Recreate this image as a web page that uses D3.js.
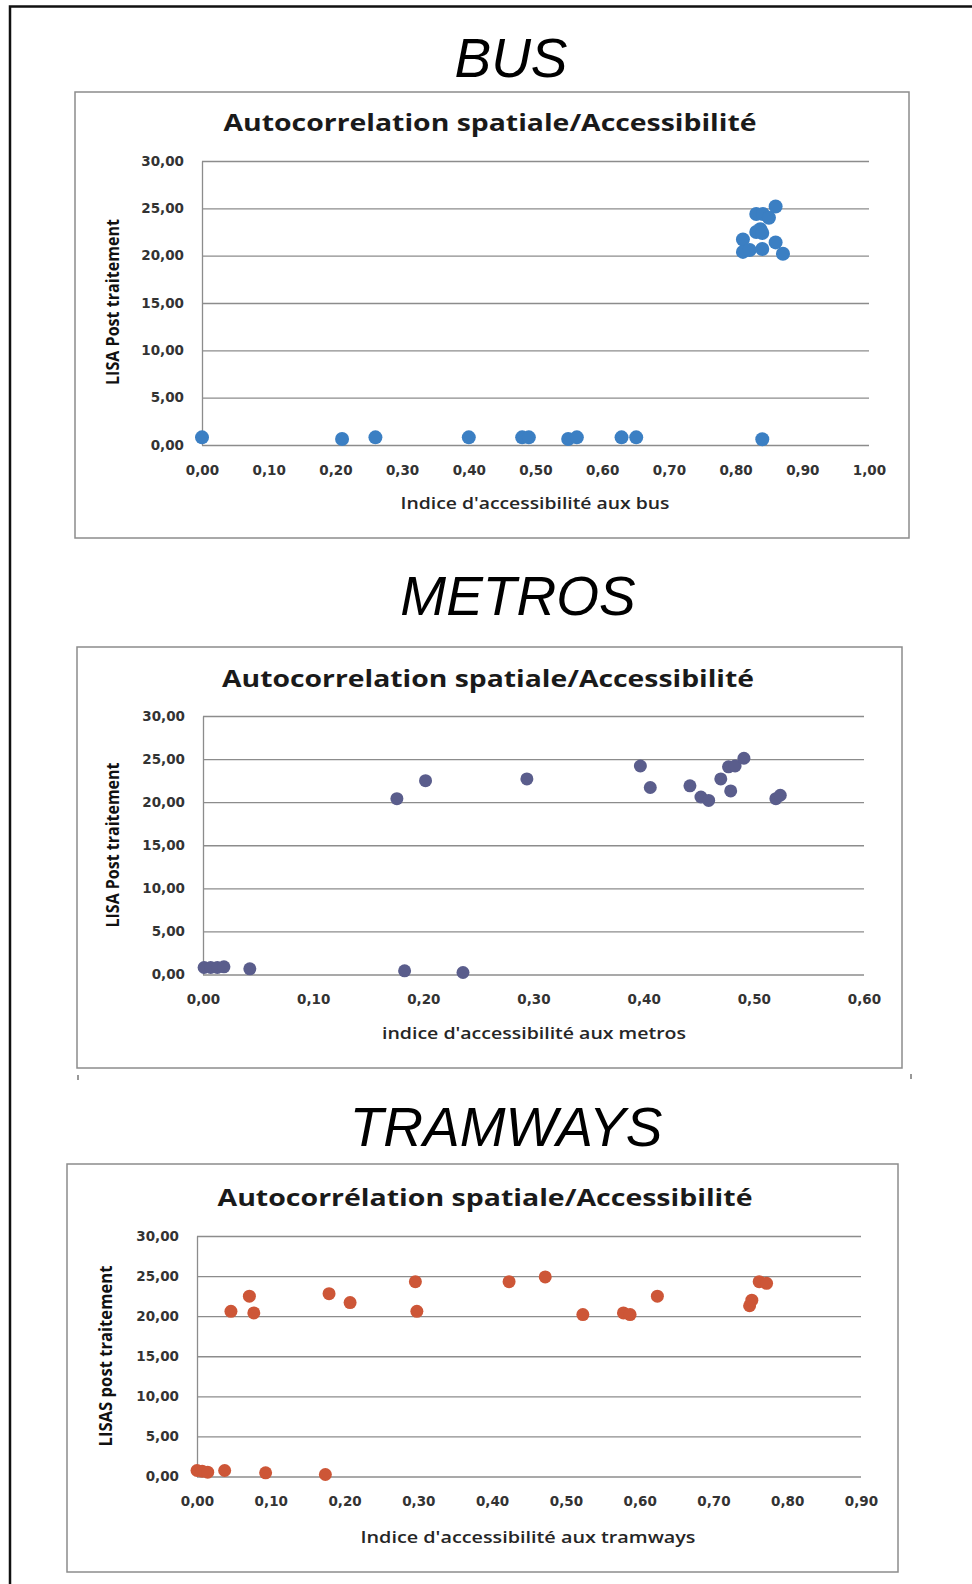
<!DOCTYPE html>
<meta charset="utf-8">
<style>
body { margin: 0; background: #fff; }
.grid line { stroke: #8c8c8c; stroke-width: 1.3px; }
.grid path { stroke: #8c8c8c; stroke-width: 1.3px; }
.tick text { font-family: "DejaVu Sans", Verdana, sans-serif; font-weight: bold; font-size: 13.5px; fill: #333; }
</style>
<body>
<script src="https://d3js.org/d3.v7.min.js"></script>
<script>

// --- data ---
var yTicks = [0, 5, 10, 15, 20, 25, 30];

var busXTicks = [0, 0.1, 0.2, 0.3, 0.4, 0.5, 0.6, 0.7, 0.8, 0.9, 1.0];
var busX = [0.00, 0.21, 0.26, 0.40, 0.48, 0.49, 0.549, 0.562, 0.629, 0.651, 0.840,
            0.860, 0.831, 0.841, 0.850, 0.837, 0.831, 0.840, 0.811, 0.860, 0.811, 0.821, 0.840, 0.871];
var busY = [0.81, 0.64, 0.81, 0.81, 0.81, 0.81, 0.64, 0.81, 0.81, 0.81, 0.6,
            25.2, 24.4, 24.4, 24.0, 22.8, 22.5, 22.4, 21.7, 21.4, 20.4, 20.6, 20.7, 20.2];

var metroXTicks = [0, 0.1, 0.2, 0.3, 0.4, 0.5, 0.6];
var metroX = [0.001, 0.007, 0.013, 0.019, 0.0425, 0.183, 0.236,
              0.176, 0.202, 0.294, 0.397, 0.406, 0.442, 0.452, 0.459, 0.470, 0.477, 0.483, 0.491, 0.479, 0.520, 0.524];
var metroY = [0.81, 0.81, 0.81, 0.89, 0.66, 0.43, 0.23,
              20.4, 22.5, 22.7, 24.2, 21.7, 21.9, 20.6, 20.2, 22.7, 24.1, 24.2, 25.1, 21.3, 20.4, 20.8];

var tramXTicks = [0, 0.1, 0.2, 0.3, 0.4, 0.5, 0.6, 0.7, 0.8, 0.9];
var tramX = [0.000, 0.007, 0.0145, 0.0375, 0.093, 0.174,
             0.046, 0.071, 0.077, 0.179, 0.2075, 0.296, 0.298, 0.423, 0.472, 0.523, 0.578, 0.587, 0.624, 0.749, 0.752, 0.762, 0.772];
var tramY = [0.75, 0.67, 0.54, 0.75, 0.46, 0.25,
             20.6, 22.5, 20.4, 22.8, 21.7, 24.3, 20.6, 24.3, 24.9, 20.2, 20.4, 20.2, 22.5, 21.3, 22.0, 24.3, 24.1];

var sectionTitles = ["BUS", "METROS", "TRAMWAYS"];
var chartTitles = ["Autocorrelation spatiale/Accessibilité", "Autocorrelation spatiale/Accessibilité", "Autocorrélation spatiale/Accessibilité"];
var xTitles = ["Indice d'accessibilité aux bus", "indice d'accessibilité aux metros", "Indice d'accessibilité aux tramways"];
var yTitles = ["LISA Post traitement", "LISA Post traitement", "LISAS post traitement"];

// french number format : 0,00
var fmt = d3.formatLocale({decimal: ",", thousands: " ", grouping: [3], currency: ["", " €"]}).format(".2f");

// layout of the three panels
var panels = [
  {xs: busX, ys: busY, xTicks: busXTicks, xMax: 1.0, color: "#3b7fc3", r: 7,
   head: [511, 77], box: [75, 92, 909, 538], xr: [202, 869], yr: [445, 161],
   ct: [490, 131, 533], xt: [535, 509, 269], yt: [113, 302, 166]},
  {xs: metroX, ys: metroY, xTicks: metroXTicks, xMax: 0.6, color: "#5a5d8c", r: 6.5,
   head: [518, 615], box: [77, 647, 902, 1068], xr: [203, 864], yr: [974.5, 716],
   ct: [488, 687, 532], xt: [534, 1039, 304], yt: [113, 845, 165]},
  {xs: tramX, ys: tramY, xTicks: tramXTicks, xMax: 0.9, color: "#cd5637", r: 6.5,
   head: [506, 1146], box: [67, 1164, 898, 1572], xr: [197, 861], yr: [1476.5, 1236],
   ct: [485, 1206, 535], xt: [528, 1543, 335], yt: [106, 1356, 181]}
];

var svg = d3.select("body").append("svg")
    .attr("width", 972)
    .attr("height", 1584);

svg.append("rect").attr("width", 972).attr("height", 1584).attr("fill", "#fff");

// outer frame (only left and top edges are visible)
svg.append("path")
    .attr("d", "M10,1584 V6.5 H972")
    .attr("fill", "none")
    .attr("stroke", "#111")
    .attr("stroke-width", 2.5);

panels.forEach(function(p, i) {
  var x = d3.scaleLinear().domain([0, p.xMax]).range(p.xr);
  var y = d3.scaleLinear().domain([0, 30]).range(p.yr);

  // big italic heading
  svg.append("text")
      .attr("x", p.head[0])
      .attr("y", p.head[1])
      .attr("text-anchor", "middle")
      .style("font-family", "'Liberation Sans', Arial, sans-serif")
      .style("font-style", "italic")
      .style("font-size", "55px")
      .text(sectionTitles[i]);

  // chart frame
  svg.append("rect")
      .attr("x", p.box[0])
      .attr("y", p.box[1])
      .attr("width", p.box[2] - p.box[0])
      .attr("height", p.box[3] - p.box[1])
      .attr("fill", "#fff")
      .attr("stroke", "#8c8c8c")
      .attr("stroke-width", 1.5);

  // chart title
  svg.append("text")
      .attr("x", p.ct[0])
      .attr("y", p.ct[1])
      .attr("text-anchor", "middle")
      .attr("textLength", p.ct[2])
      .attr("lengthAdjust", "spacingAndGlyphs")
      .style("font-family", "'Open Sans', sans-serif")
      .style("font-weight", "bold")
      .style("font-size", "24px")
      .style("fill", "#1a1a1a")
      .text(chartTitles[i]);

  // y axis with gridlines
  svg.append("g")
      .attr("class", "grid")
      .attr("transform", "translate(" + p.xr[0] + ",0)")
      .call(d3.axisLeft(y).tickValues(yTicks).tickFormat(fmt)
        .tickSize(-(p.xr[1] - p.xr[0])).tickSizeOuter(0).tickPadding(18));

  // x axis labels (the 0 gridline is the axis)
  var gx = svg.append("g")
      .attr("transform", "translate(0," + p.yr[0] + ")")
      .call(d3.axisBottom(x).tickValues(p.xTicks).tickFormat(fmt).tickSize(0).tickPadding(20));
  gx.select(".domain").remove();

  // axis titles
  svg.append("text")
      .attr("x", p.xt[0])
      .attr("y", p.xt[1])
      .attr("text-anchor", "middle")
      .attr("textLength", p.xt[2])
      .attr("lengthAdjust", "spacingAndGlyphs")
      .style("font-family", "'Open Sans', sans-serif")
      .style("font-weight", 600)
      .style("font-size", "16px")
      .style("fill", "#262626")
      .text(xTitles[i]);

  svg.append("text")
      .attr("transform", "translate(" + p.yt[0] + "," + p.yt[1] + ") rotate(-90)")
      .attr("dy", "0.35em")
      .attr("text-anchor", "middle")
      .attr("textLength", p.yt[2])
      .attr("lengthAdjust", "spacingAndGlyphs")
      .style("font-family", "'Open Sans', sans-serif")
      .style("font-weight", "bold")
      .style("font-size", "17px")
      .style("fill", "#111")
      .text(yTitles[i]);

  // points
  svg.append("g")
    .selectAll("circle")
    .data(p.xs.map(function(v, k) { return [v, p.ys[k]]; }))
    .enter().append("circle")
      .attr("cx", function(d) { return x(d[0]); })
      .attr("cy", function(d) { return y(d[1]); })
      .attr("r", p.r)
      .attr("fill", p.color);
});

// two little marks under the metro frame
svg.append("path")
    .attr("d", "M78,1075 V1080 M911,1074 V1079")
    .attr("stroke", "#777")
    .attr("stroke-width", 1.5);

</script>
